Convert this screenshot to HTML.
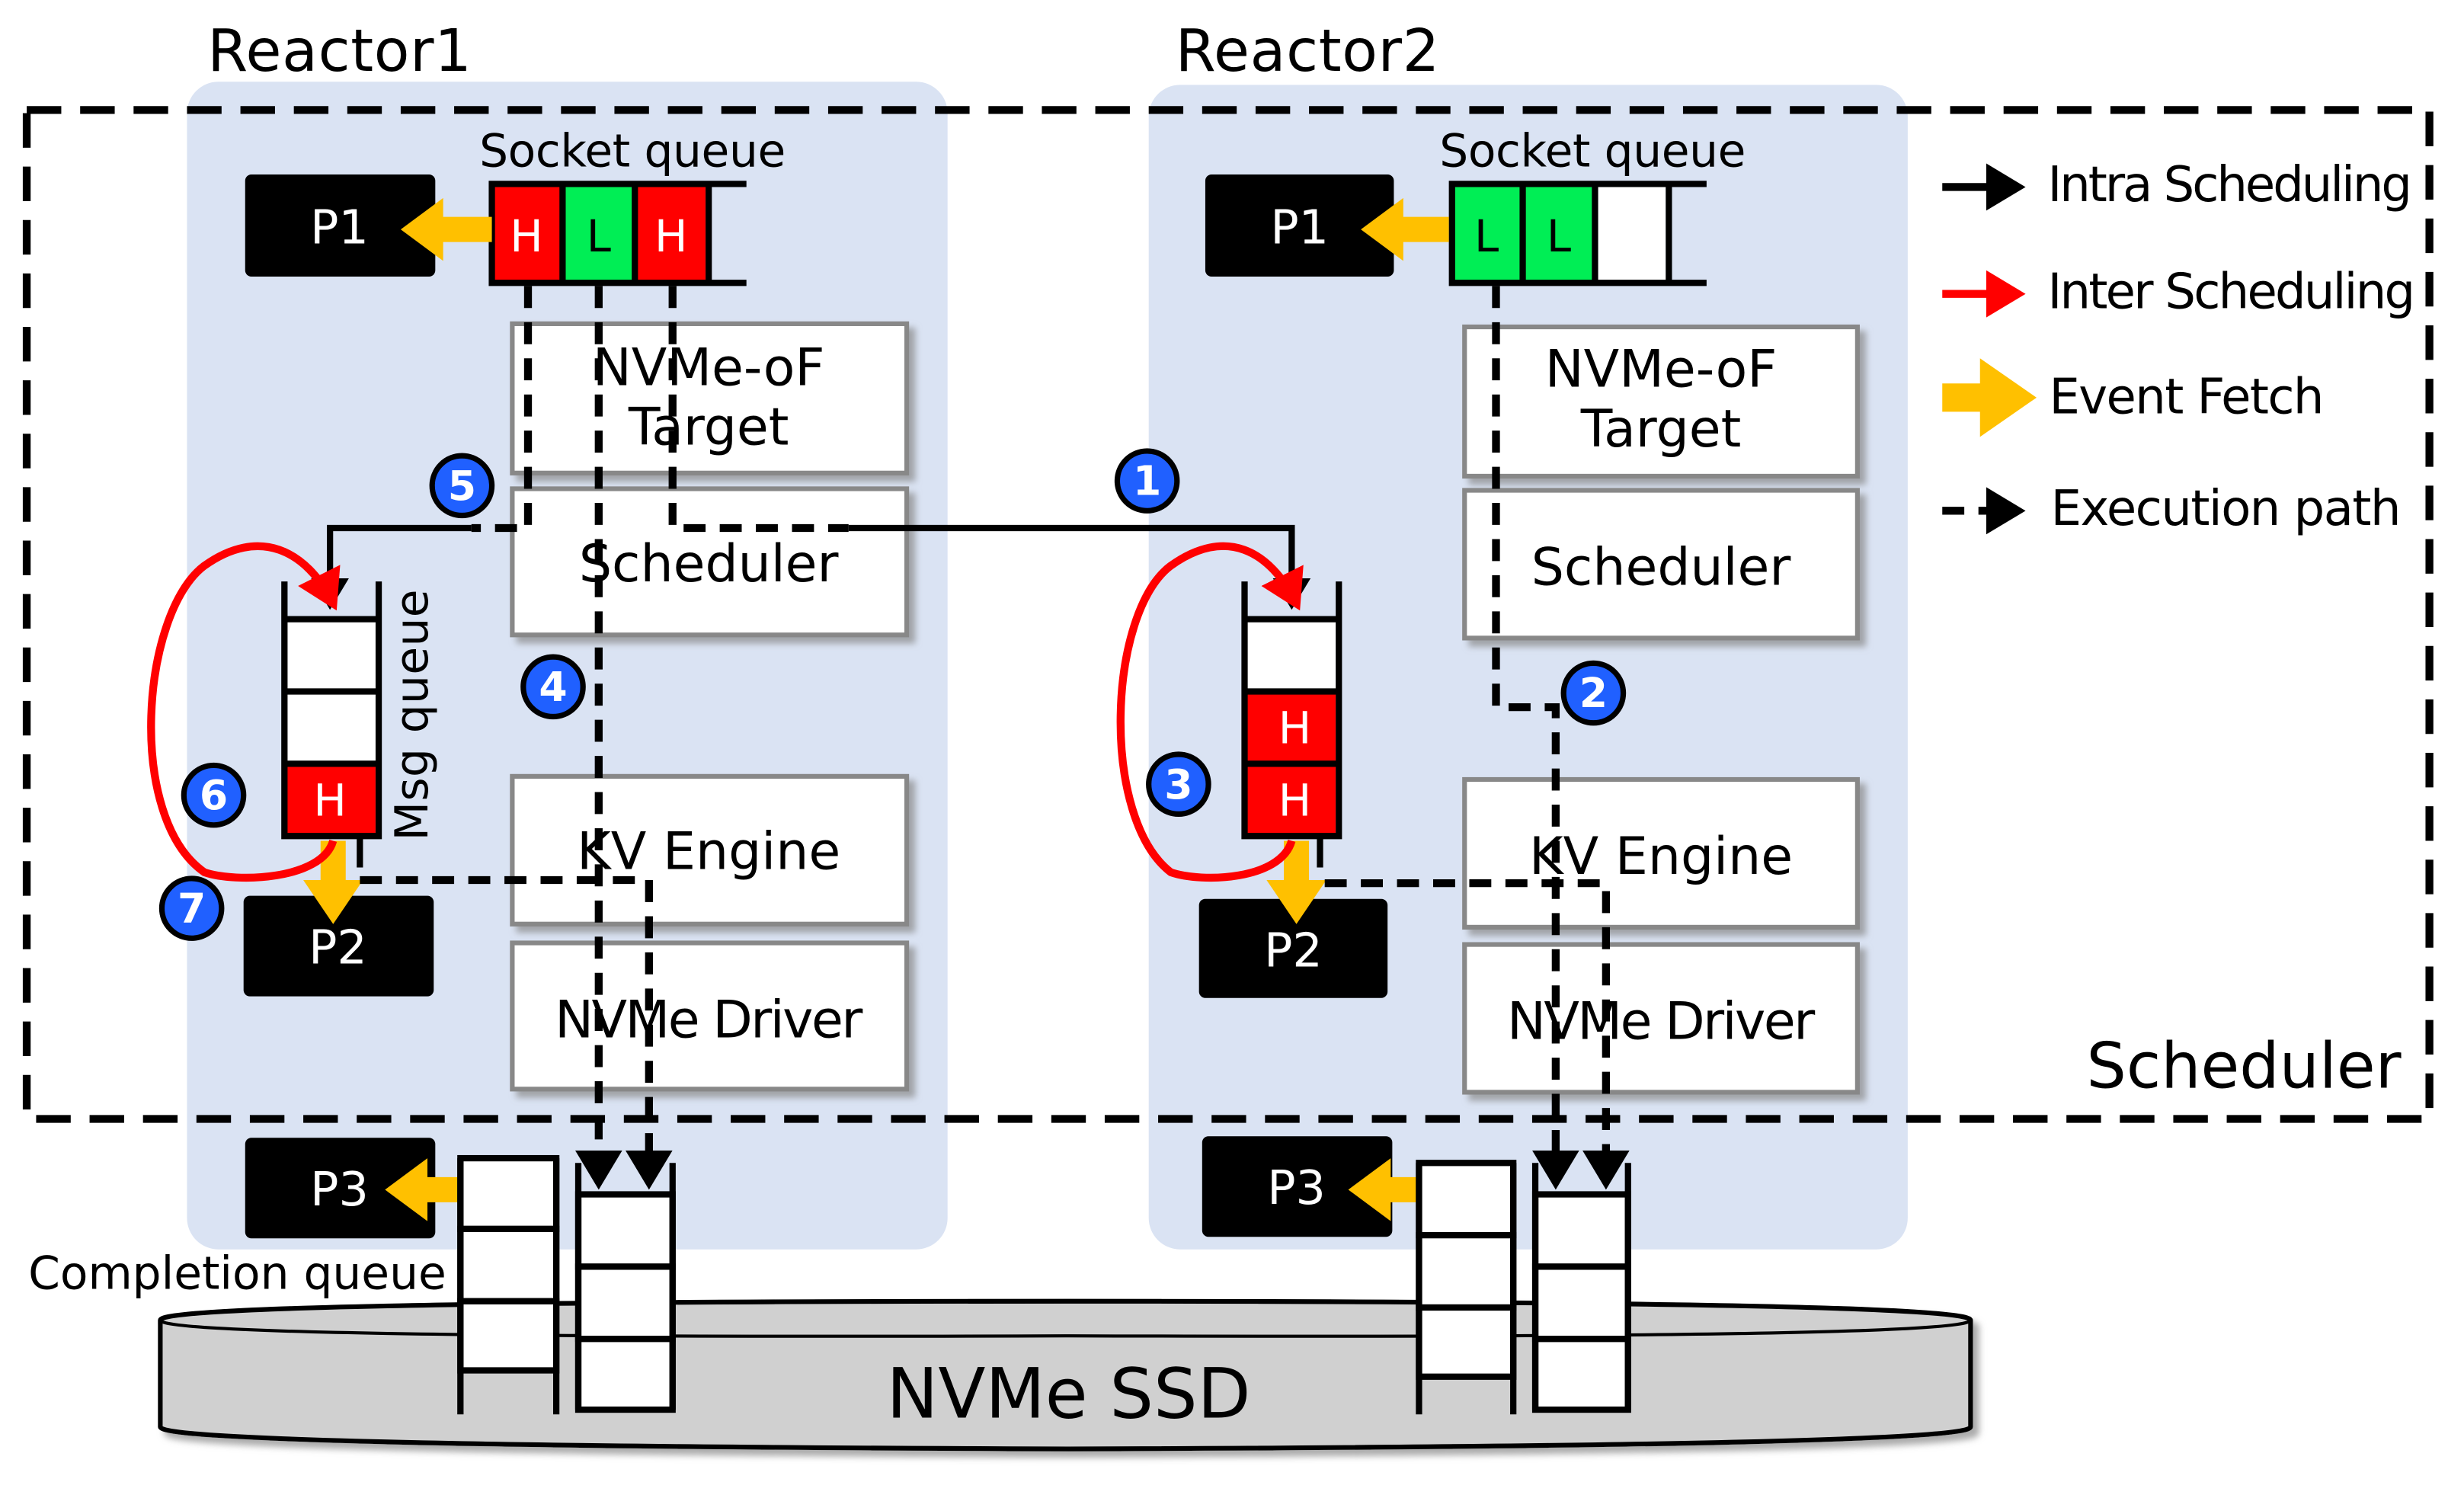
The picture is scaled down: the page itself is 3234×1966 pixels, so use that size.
<!DOCTYPE html>
<html><head><meta charset="utf-8"><style>
html,body{margin:0;padding:0;background:#fff;}
svg{display:block;}
text{font-family:"DejaVu Sans","Liberation Sans",sans-serif;}
</style></head><body>
<svg width="3234" height="1966" viewBox="0 0 1568 953.2" xmlns="http://www.w3.org/2000/svg">
<defs>
<marker id="ab" markerWidth="6" markerHeight="6" refX="4" refY="3" orient="auto" markerUnits="strokeWidth"><path d="M0,0 L5,3 L0,6 z" fill="#000"/></marker>
<marker id="ar" markerWidth="6" markerHeight="6" refX="4" refY="3" orient="auto" markerUnits="strokeWidth"><path d="M0,0 L5,3 L0,6 z" fill="#f00"/></marker>
<filter id="sh" x="-10%" y="-10%" width="130%" height="130%"><feDropShadow dx="4" dy="4" stdDeviation="2" flood-color="#888" flood-opacity="0.7"/></filter>
</defs>
<rect x="119" y="52" width="484" height="743" rx="20" fill="#dae3f3"/>
<rect x="731" y="54" width="483" height="741" rx="20" fill="#dae3f3"/>
<text x="132" y="45" font-size="37" textLength="168">Reactor1</text>
<text x="748" y="45" font-size="37" textLength="168">Reactor2</text>

<path d="M102 840 Q102 828 680 828 Q1254 828 1254 840 L1254 908 Q1254 920 680 922 Q102 920 102 908 Z" fill="#d0d0d0" stroke="#000" stroke-width="3" filter="url(#sh)"/>
<path d="M102 840 Q102 852 680 850 Q1254 852 1254 840" fill="none" stroke="#000" stroke-width="2"/>
<text x="680" y="902" font-size="44" text-anchor="middle">NVMe SSD</text>

<rect x="17" y="70" width="1529" height="642" fill="none" stroke="#000" stroke-width="5" stroke-dasharray="22,12"/>
<text x="1528" y="692" font-size="40" text-anchor="end">Scheduler</text>

<g fill="#fff" stroke="#888" stroke-width="3" filter="url(#sh)">
<rect x="326" y="206" width="251" height="95"/>
<rect x="326" y="311" width="251" height="93"/>
<rect x="326" y="494" width="251" height="94"/>
<rect x="326" y="600" width="251" height="93"/>
<rect x="932" y="208" width="250" height="95"/>
<rect x="932" y="312" width="250" height="94"/>
<rect x="932" y="496" width="250" height="94"/>
<rect x="932" y="601" width="250" height="94"/>
</g>
<g font-size="33" text-anchor="middle">
<text x="451" y="245">NVMe-oF</text><text x="451" y="283">Target</text>
<text x="451" y="370">Scheduler</text>
<text x="451" y="553">KV Engine</text>
<text x="451" y="660" textLength="196">NVMe Driver</text>
<text x="1057" y="246">NVMe-oF</text><text x="1057" y="284">Target</text>
<text x="1057" y="372">Scheduler</text>
<text x="1057" y="556">KV Engine</text>
<text x="1057" y="661" textLength="196">NVMe Driver</text>
</g>

<g fill="#000">
<rect x="156" y="111" width="121" height="65" rx="4"/>
<rect x="767" y="111" width="120" height="65" rx="4"/>
<rect x="155" y="570" width="121" height="64" rx="4"/>
<rect x="763" y="572" width="120" height="63" rx="4"/>
<rect x="156" y="724" width="121" height="64" rx="4"/>
<rect x="765" y="723" width="121" height="64" rx="4"/>
</g>
<g fill="#fff" font-size="30" text-anchor="middle">
<text x="216" y="155">P1</text><text x="827" y="155">P1</text>
<text x="215" y="613">P2</text><text x="823" y="615">P2</text>
<text x="216" y="767">P3</text><text x="825" y="766">P3</text>
</g>

<text x="305" y="106" font-size="29" textLength="195">Socket queue</text>
<text x="916" y="106" font-size="29" textLength="195">Socket queue</text>
<rect x="313" y="117" width="44" height="63" fill="#f00"/>
<rect x="359" y="117" width="44" height="63" fill="#00ee55"/>
<rect x="405" y="117" width="44" height="63" fill="#f00"/>
<g fill="none" stroke="#000" stroke-width="4">
<path d="M475 117 H313 V180 H475"/><line x1="358" y1="117" x2="358" y2="180"/><line x1="404" y1="117" x2="404" y2="180"/><line x1="451" y1="117" x2="451" y2="180"/>
</g>
<g fill="#fff" font-size="28" text-anchor="middle"><text x="335" y="160">H</text><text x="427" y="160">H</text></g>
<text x="381" y="160" font-size="28" text-anchor="middle">L</text>

<rect x="924" y="117" width="44" height="63" fill="#00ee55"/>
<rect x="970" y="117" width="44" height="63" fill="#00ee55"/>
<rect x="1016" y="117" width="44" height="63" fill="#fff"/>
<g fill="none" stroke="#000" stroke-width="4">
<path d="M1086 117 H924 V180 H1086"/><line x1="969" y1="117" x2="969" y2="180"/><line x1="1015" y1="117" x2="1015" y2="180"/><line x1="1062" y1="117" x2="1062" y2="180"/>
</g>
<g font-size="28" text-anchor="middle"><text x="946" y="160">L</text><text x="992" y="160">L</text></g>

<g fill="#ffc000">
<path d="M313 138 H282 V126 L255 146 L282 166 V154 H313 Z"/>
<path d="M922 138 H893 V126 L866 146 L893 166 V154 H922 Z"/>
<path d="M300 749 H272 V737 L245 757 L272 777 V765 H300 Z"/>
<path d="M912 749 H885 V737 L858 757 L885 777 V765 H912 Z"/>
<path d="M204 535 V560 H193 L212 588 L231 560 H220 V535 Z"/>
<path d="M817 535 V560 H806 L825 588 L844 560 H833 V535 Z"/>
</g>

<rect x="181" y="395" width="58" height="44" fill="#fff"/>
<rect x="181" y="441" width="58" height="44" fill="#fff"/>
<rect x="181" y="487" width="58" height="44" fill="#f00"/>
<g fill="none" stroke="#000" stroke-width="4">
<path d="M181 370 V532 H241 V370"/><line x1="181" y1="394" x2="241" y2="394"/><line x1="181" y1="440" x2="241" y2="440"/><line x1="181" y1="486" x2="241" y2="486"/>
<line x1="229" y1="532" x2="229" y2="552"/>
</g>
<text x="210" y="519" font-size="28" fill="#fff" text-anchor="middle">H</text>
<text transform="translate(272,455) rotate(-90)" font-size="29" text-anchor="middle" textLength="160">Msg queue</text>

<rect x="792" y="395" width="58" height="44" fill="#fff"/>
<rect x="792" y="441" width="58" height="44" fill="#f00"/>
<rect x="792" y="487" width="58" height="44" fill="#f00"/>
<g fill="none" stroke="#000" stroke-width="4">
<path d="M792 370 V532 H852 V370"/><line x1="792" y1="394" x2="852" y2="394"/><line x1="792" y1="440" x2="852" y2="440"/><line x1="792" y1="486" x2="852" y2="486"/>
<line x1="840" y1="532" x2="840" y2="552"/>
</g>
<g font-size="28" fill="#fff" text-anchor="middle"><text x="824" y="473">H</text><text x="824" y="519">H</text></g>

<g fill="#fff" stroke="#000" stroke-width="4">
<rect x="293" y="737" width="61" height="45"/><rect x="293" y="782" width="61" height="46"/><rect x="293" y="828" width="61" height="44"/>
<rect x="368" y="760" width="60" height="46"/><rect x="368" y="806" width="60" height="46"/><rect x="368" y="852" width="60" height="45"/>
<rect x="903" y="740" width="60" height="46"/><rect x="903" y="786" width="60" height="46"/><rect x="903" y="832" width="60" height="44"/>
<rect x="977" y="760" width="59" height="46"/><rect x="977" y="806" width="59" height="46"/><rect x="977" y="852" width="59" height="45"/>
</g>
<g stroke="#000" stroke-width="4" fill="none">
<path d="M293 737 V900 M354 737 V900"/>
<path d="M368 740 V897 M428 740 V897"/>
<path d="M903 740 V900 M963 740 V900"/>
<path d="M977 740 V897 M1036 740 V897"/>
</g>
<text x="18" y="820" font-size="29" textLength="266">Completion queue</text>

<g fill="none" stroke="#000" stroke-width="5" stroke-dasharray="14,9">
<path d="M336 182 V336 H300"/>
<path d="M381 182 V752" marker-end="url(#ab)"/>
<path d="M428 182 V336 H540"/>
<path d="M229 560 H413 V752" marker-end="url(#ab)"/>
<path d="M952 182 V450 H990 V752" marker-end="url(#ab)"/>
<path d="M843 562 H1022 V752" marker-end="url(#ab)"/>
</g>
<g fill="none" stroke="#000" stroke-width="4">
<path d="M300 336 H210 V384" marker-end="url(#ab)"/>
<path d="M540 336 H822 V384" marker-end="url(#ab)"/>
</g>

<g fill="none" stroke="#f00" stroke-width="5">
<path d="M212 535 C205 560 150 562 130 555 C80 520 90 390 130 360 C165 335 195 350 212 384" marker-end="url(#ar)"/>
<path d="M822 535 C815 560 765 562 745 555 C700 520 705 390 745 360 C780 335 808 350 825 384" marker-end="url(#ar)"/>
</g>

<g fill="#2060ff" stroke="#000" stroke-width="3.5">
<circle cx="294" cy="309" r="19"/><circle cx="352" cy="437" r="19"/><circle cx="136" cy="506" r="19"/><circle cx="122" cy="578" r="19"/>
<circle cx="730" cy="306" r="19"/><circle cx="1014" cy="441" r="19"/><circle cx="750" cy="499" r="19"/>
</g>
<g fill="#fff" font-size="26" font-weight="bold" text-anchor="middle">
<text x="294" y="318">5</text><text x="352" y="446">4</text><text x="136" y="515">6</text><text x="122" y="587">7</text>
<text x="730" y="315">1</text><text x="1014" y="450">2</text><text x="750" y="508">3</text>
</g>

<g stroke-width="5" fill="none">
<line x1="1236" y1="119" x2="1284" y2="119" stroke="#000" marker-end="url(#ab)"/>
<line x1="1236" y1="187" x2="1284" y2="187" stroke="#f00" marker-end="url(#ar)"/>
<line x1="1236" y1="325" x2="1284" y2="325" stroke="#000" stroke-dasharray="14,9" marker-end="url(#ab)"/>
</g>
<path d="M1236 244 H1260 V228 L1296 253 L1260 278 V262 H1236 Z" fill="#ffc000"/>
<g font-size="31">
<text x="1303" y="128" textLength="232">Intra Scheduling</text>
<text x="1303" y="196" textLength="234">Inter Scheduling</text>
<text x="1304" y="263" textLength="175">Event Fetch</text>
<text x="1305" y="334" textLength="223">Execution path</text>
</g>
</svg>
</body></html>
